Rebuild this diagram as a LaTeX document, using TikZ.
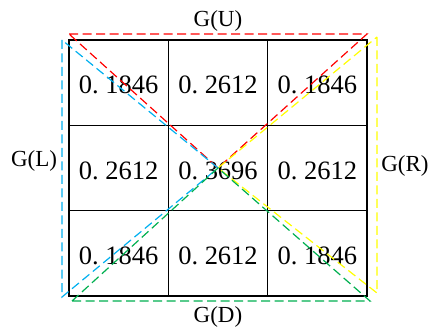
\documentclass[tikz,border=0pt]{standalone}
\usepackage{fontspec}
\setmainfont{Liberation Serif}
\usetikzlibrary{positioning}
\definecolor{gred}{RGB}{255,0,0}
\definecolor{gblue}{RGB}{0,176,240}
\definecolor{gyellow}{RGB}{255,255,0}
\definecolor{ggreen}{RGB}{0,176,80}
\newcommand{\wval}[2]{#1.\hspace{0.25em}#2}

\begin{document}
\begin{tikzpicture}[
    x=1pt, y=-1pt,
    gridcell/.style={draw, line width=1.3pt, minimum width=99.33pt,
      minimum height=85.33pt, inner sep=0pt},
    cellval/.style={inner sep=0pt, font=\fontsize{26.5}{28}\selectfont},
    gridlabel/.style={inner sep=0pt, font=\fontsize{23}{25}\selectfont},
    gtri/.style={line width=1.2pt, dash pattern=on 9pt off 4.5pt}
]
\useasboundingbox[fill=white] (0,0) rectangle (432,329);
% weight grid
\foreach \r/\c/\v in {0/0/1846, 0/1/2612, 0/2/1846,
                       1/0/2612, 1/1/3696, 1/2/2612,
                       2/0/1846, 2/1/2612, 2/2/1846}{
  \node[gridcell] (c\r\c) at ({118.67+99.33*\c},{82.67+85.33*\r}) {};
  \node[cellval] (v\r\c) at ([yshift=-2.5pt]c\r\c.center) {\wval{0}{\v}};
}
% triangle corners
\coordinate (mid) at (218,168);
\coordinate (uL) at (69,34);
\coordinate (uR) at (367,34);
\coordinate (lT) at (62,40);
\coordinate (lB) at (62,297);
\coordinate (rT) at (377,37);
\coordinate (rB) at (377,293);
\coordinate (dL) at (72,301);
\coordinate (dR) at (370,301);
\draw[gtri, gred] (uL) -- (uR) -- (mid) -- cycle;
\draw[gtri, gblue] (lT) -- (lB) -- (mid) -- cycle;
\draw[gtri, gyellow] (rT) -- (rB) -- (mid) -- cycle;
\draw[gtri, ggreen] (dL) -- (dR) -- (mid) -- cycle;
% region labels
\node[gridlabel] (gu) at (218,21) {G(U)};
\node[gridlabel] (gd) at (218,317) {G(D)};
\node[gridlabel] (gl) at (34,161) {G(L)};
\node[gridlabel] (gr) at (405,166) {G(R)};
\end{tikzpicture}
\end{document}
